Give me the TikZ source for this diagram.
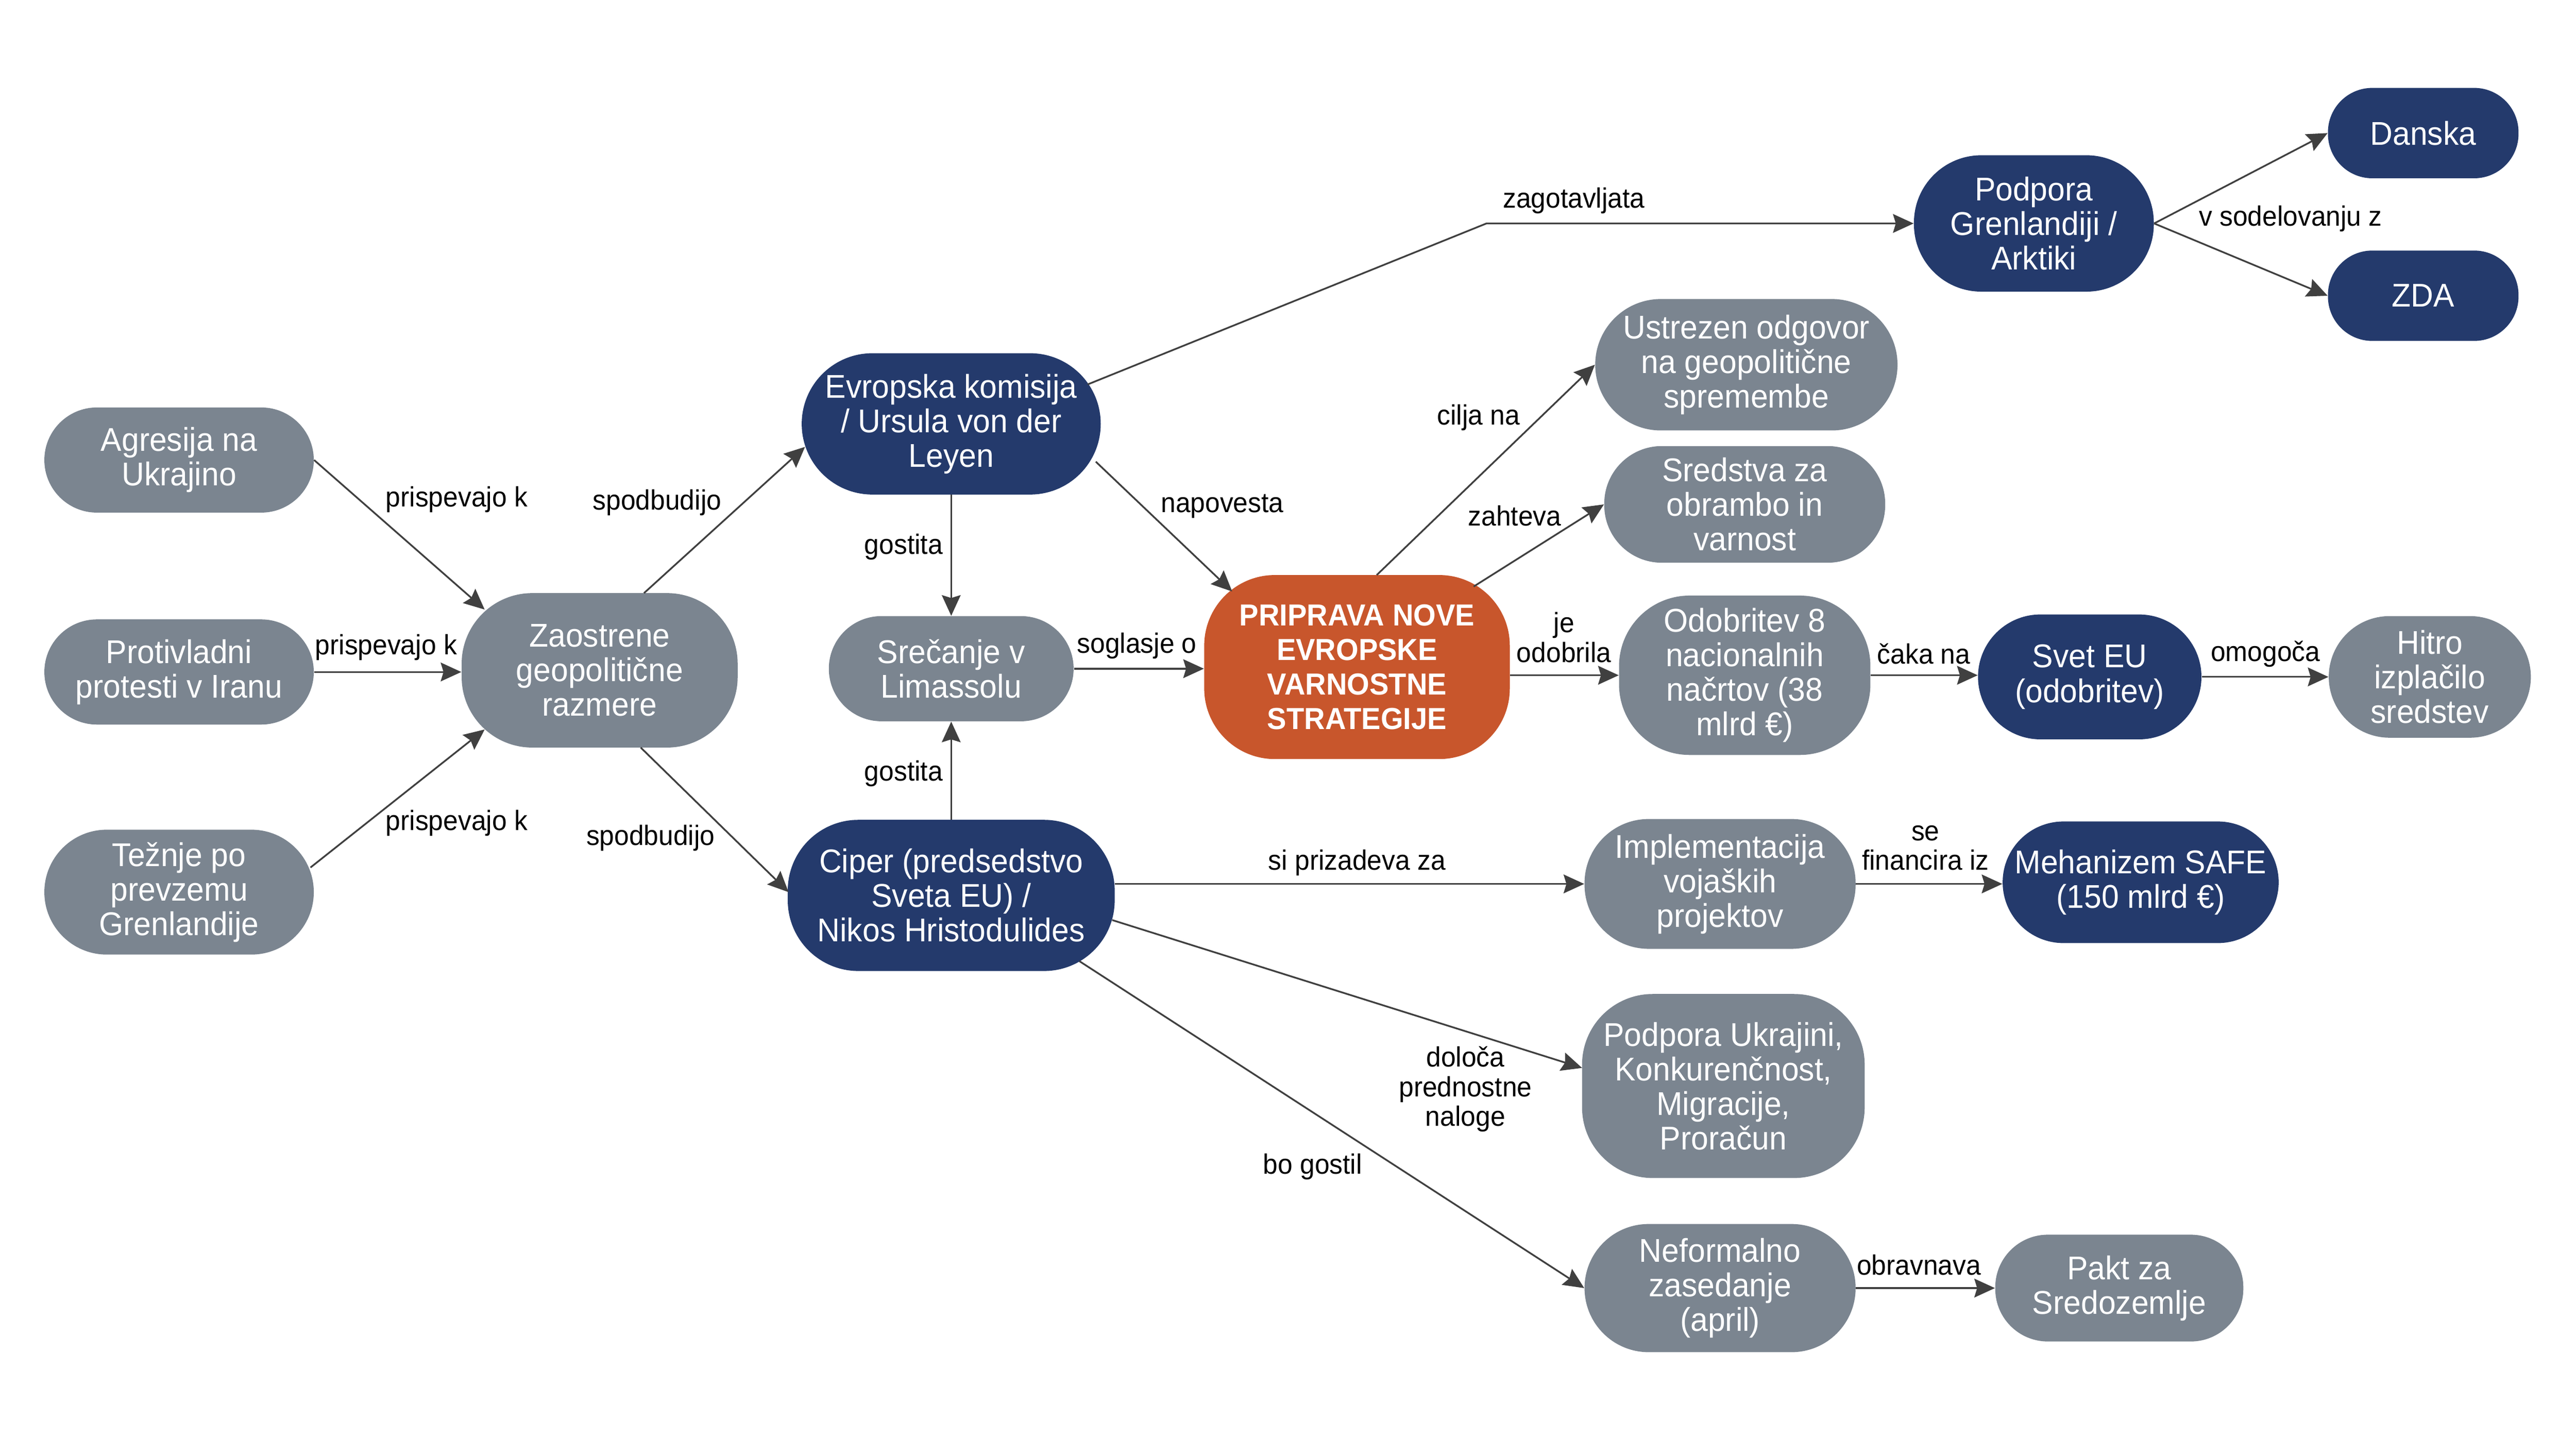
\documentclass[tikz,border=0pt]{standalone}
\usepackage{fontspec}
\setmainfont{Liberation Sans}[FakeStretch=0.95]
\usetikzlibrary{arrows.meta,calc}
\definecolor{gfill}{HTML}{7B8590}
\definecolor{nfill}{HTML}{243A6C}
\definecolor{ofill}{HTML}{C8562C}
\definecolor{edgec}{HTML}{404040}
\def\ux{0.0351cm}
\begin{document}
\begin{tikzpicture}[x=0.0351cm,y=-0.0351cm,
  box/.style n args={3}{minimum width=#1*\ux, minimum height=#2*\ux, rounded corners=#3*\ux},
  nbase/.style={inner sep=0pt, align=center, text=white, font=\fontsize{20pt}{21pt}\selectfont},
  gnode/.style={nbase, fill=gfill},
  nnode/.style={nbase, fill=nfill},
  onode/.style={nbase, fill=ofill, font=\bfseries\fontsize{18.5pt}{21pt}\selectfont},
  lbl/.style={inner sep=0pt, align=center, text=black, font=\fontsize{17pt}{18pt}\selectfont},
  arr/.style={draw=edgec, line width=1.05pt, -{Stealth[length=0.44cm,width=0.4cm,inset=0.06cm]}},
]
\useasboundingbox (0,0) rectangle (1568,875.2);
\fill[white] (0,0) rectangle (1568,875.2);

% nodes
\node[gnode, box={164}{64}{32}] (ag) at (109,280) {Agresija na\\Ukrajino};
\node[gnode, box={164}{64}{32}] (pr) at (109,409) {Protivladni\\protesti v Iranu};
\node[gnode, box={164}{76}{38}] (te) at (109,543) {Težnje po\\prevzemu\\Grenlandije};
\node[gnode, box={168}{94}{43}] (za) at (365,408) {Zaostrene\\geopolitične\\razmere};
\node[nnode, box={182}{86}{43}] (ek) at (579,258) {Evropska komisija\\/ Ursula von der\\Leyen};
\node[gnode, box={149}{64}{32}] (sr) at (579,407) {Srečanje v\\Limassolu};
\node[nnode, box={199}{92}{43}] (ci) at (579,545) {Ciper (predsedstvo\\Sveta EU) /\\Nikos Hristodulides};
\node[onode, box={186}{112}{43}] (pp) at (826,406) {PRIPRAVA NOVE\\EVROPSKE\\VARNOSTNE\\STRATEGIJE};
\node[nnode, box={146}{83}{41}] (pg) at (1238,136) {Podpora\\Grenlandiji /\\Arktiki};
\node[nnode, box={116}{55}{27}] (da) at (1475,81) {Danska};
\node[nnode, box={116}{55}{27}] (zd) at (1475,180) {ZDA};
\node[gnode, box={184}{80}{40}] (us) at (1063,222) {Ustrezen odgovor\\na geopolitične\\spremembe};
\node[gnode, box={171}{71}{35}] (sz) at (1062,307) {Sredstva za\\obrambo in\\varnost};
\node[gnode, box={153}{97}{43}] (od) at (1062,411) {Odobritev 8\\nacionalnih\\načrtov (38\\mlrd €)};
\node[nnode, box={136}{76}{38}] (se) at (1272,412) {Svet EU\\(odobritev)};
\node[gnode, box={123}{74}{37}] (hi) at (1479,412) {Hitro\\izplačilo\\sredstev};
\node[gnode, box={165}{79}{39}] (im) at (1047,538) {Implementacija\\vojaških\\projektov};
\node[nnode, box={168}{74}{37}] (me) at (1303,537) {Mehanizem SAFE\\(150 mlrd €)};
\node[gnode, box={172}{112}{43}] (pu) at (1049,661) {Podpora Ukrajini,\\Konkurenčnost,\\Migracije,\\Proračun};
\node[gnode, box={165}{78}{39}] (ne) at (1047,784) {Neformalno\\zasedanje\\(april)};
\node[gnode, box={151}{65}{32}] (pk) at (1290,784) {Pakt za\\Sredozemlje};

% connectors
\draw[arr] (ag.east) -- ($(za.center)+(-70,-37)$) node[lbl] at (278,304) {prispevajo k};
\draw[arr] (pr.east) -- (pr.east -| za.west) node[lbl] at (235,394) {prispevajo k};
\draw[arr] ($(te.center)+(80,-15)$) -- ($(za.center)+(-70,36)$) node[lbl] at (278,501) {prispevajo k};
\draw[arr] ($(za.center)+(27,-47)$) -- ($(ek.center)+(-89,14)$) node[lbl] at (400,306) {spodbudijo};
\draw[arr] ($(za.center)+(25,47)$) -- ($(ci.center)+(-99,-2)$) node[lbl] at (396,510) {spodbudijo};
\draw[arr] (ek.south) -- (sr.north) node[lbl] at (550,333) {gostita};
\draw[arr] (ci.north) -- (sr.south) node[lbl] at (550,471) {gostita};
\draw[arr] (sr.east) -- (sr.east -| pp.west) node[lbl] at (692,393) {soglasje o};
\draw[arr] ($(ek.center)+(88,23)$) -- ($(pp.center)+(-76,-46)$) node[lbl] at (744,308) {napovesta};
\coordinate (bend) at ($(pg.west)+(-260,0)$);
\draw[arr] ($(ek.center)+(83,-24)$) -- (bend) -- (pg.west) node[lbl] at (958,122) {zagotavljata};
\draw[arr] (pg.east) -- (da.west);
\draw[arr] (pg.east) -- (zd.west) node[lbl, anchor=west] at (1338,133) {v sodelovanju z};
\draw[arr] ($(pp.center)+(12,-56)$) -- (us.west) node[lbl] at (900,254) {cilja na};
\draw[arr] ($(pp.center)+(71,-49)$) -- (sz.west) node[lbl] at (922,314) {zahteva};
\draw[arr] (pp.east |- od.west) -- (od.west) node[lbl] at (952,388) {je\\odobrila};
\draw[arr] (od.east) -- (od.east -| se.west) node[lbl] at (1171,398) {čaka na};
\draw[arr] (se.east) -- (se.east -| hi.west) node[lbl] at (1379,398) {omogoča};
\draw[arr] (ci.east |- im.west) -- (im.west) node[lbl] at (826,525) {si prizadeva za};
\draw[arr] (im.east) -- (im.east -| me.west) node[lbl] at (1172,516) {se\\financira iz};
\draw[arr] ($(ci.center)+(98,15)$) -- ($(pu.center)+(-86,-11)$) node[lbl] at (892,663) {določa\\prednostne\\naloge};
\draw[arr] ($(ci.center)+(78,40)$) -- (ne.west) node[lbl] at (799,710) {bo gostil};
\draw[arr] (ne.east) -- (ne.east -| pk.west) node[lbl] at (1168,770) {obravnava};
\end{tikzpicture}
\end{document}
